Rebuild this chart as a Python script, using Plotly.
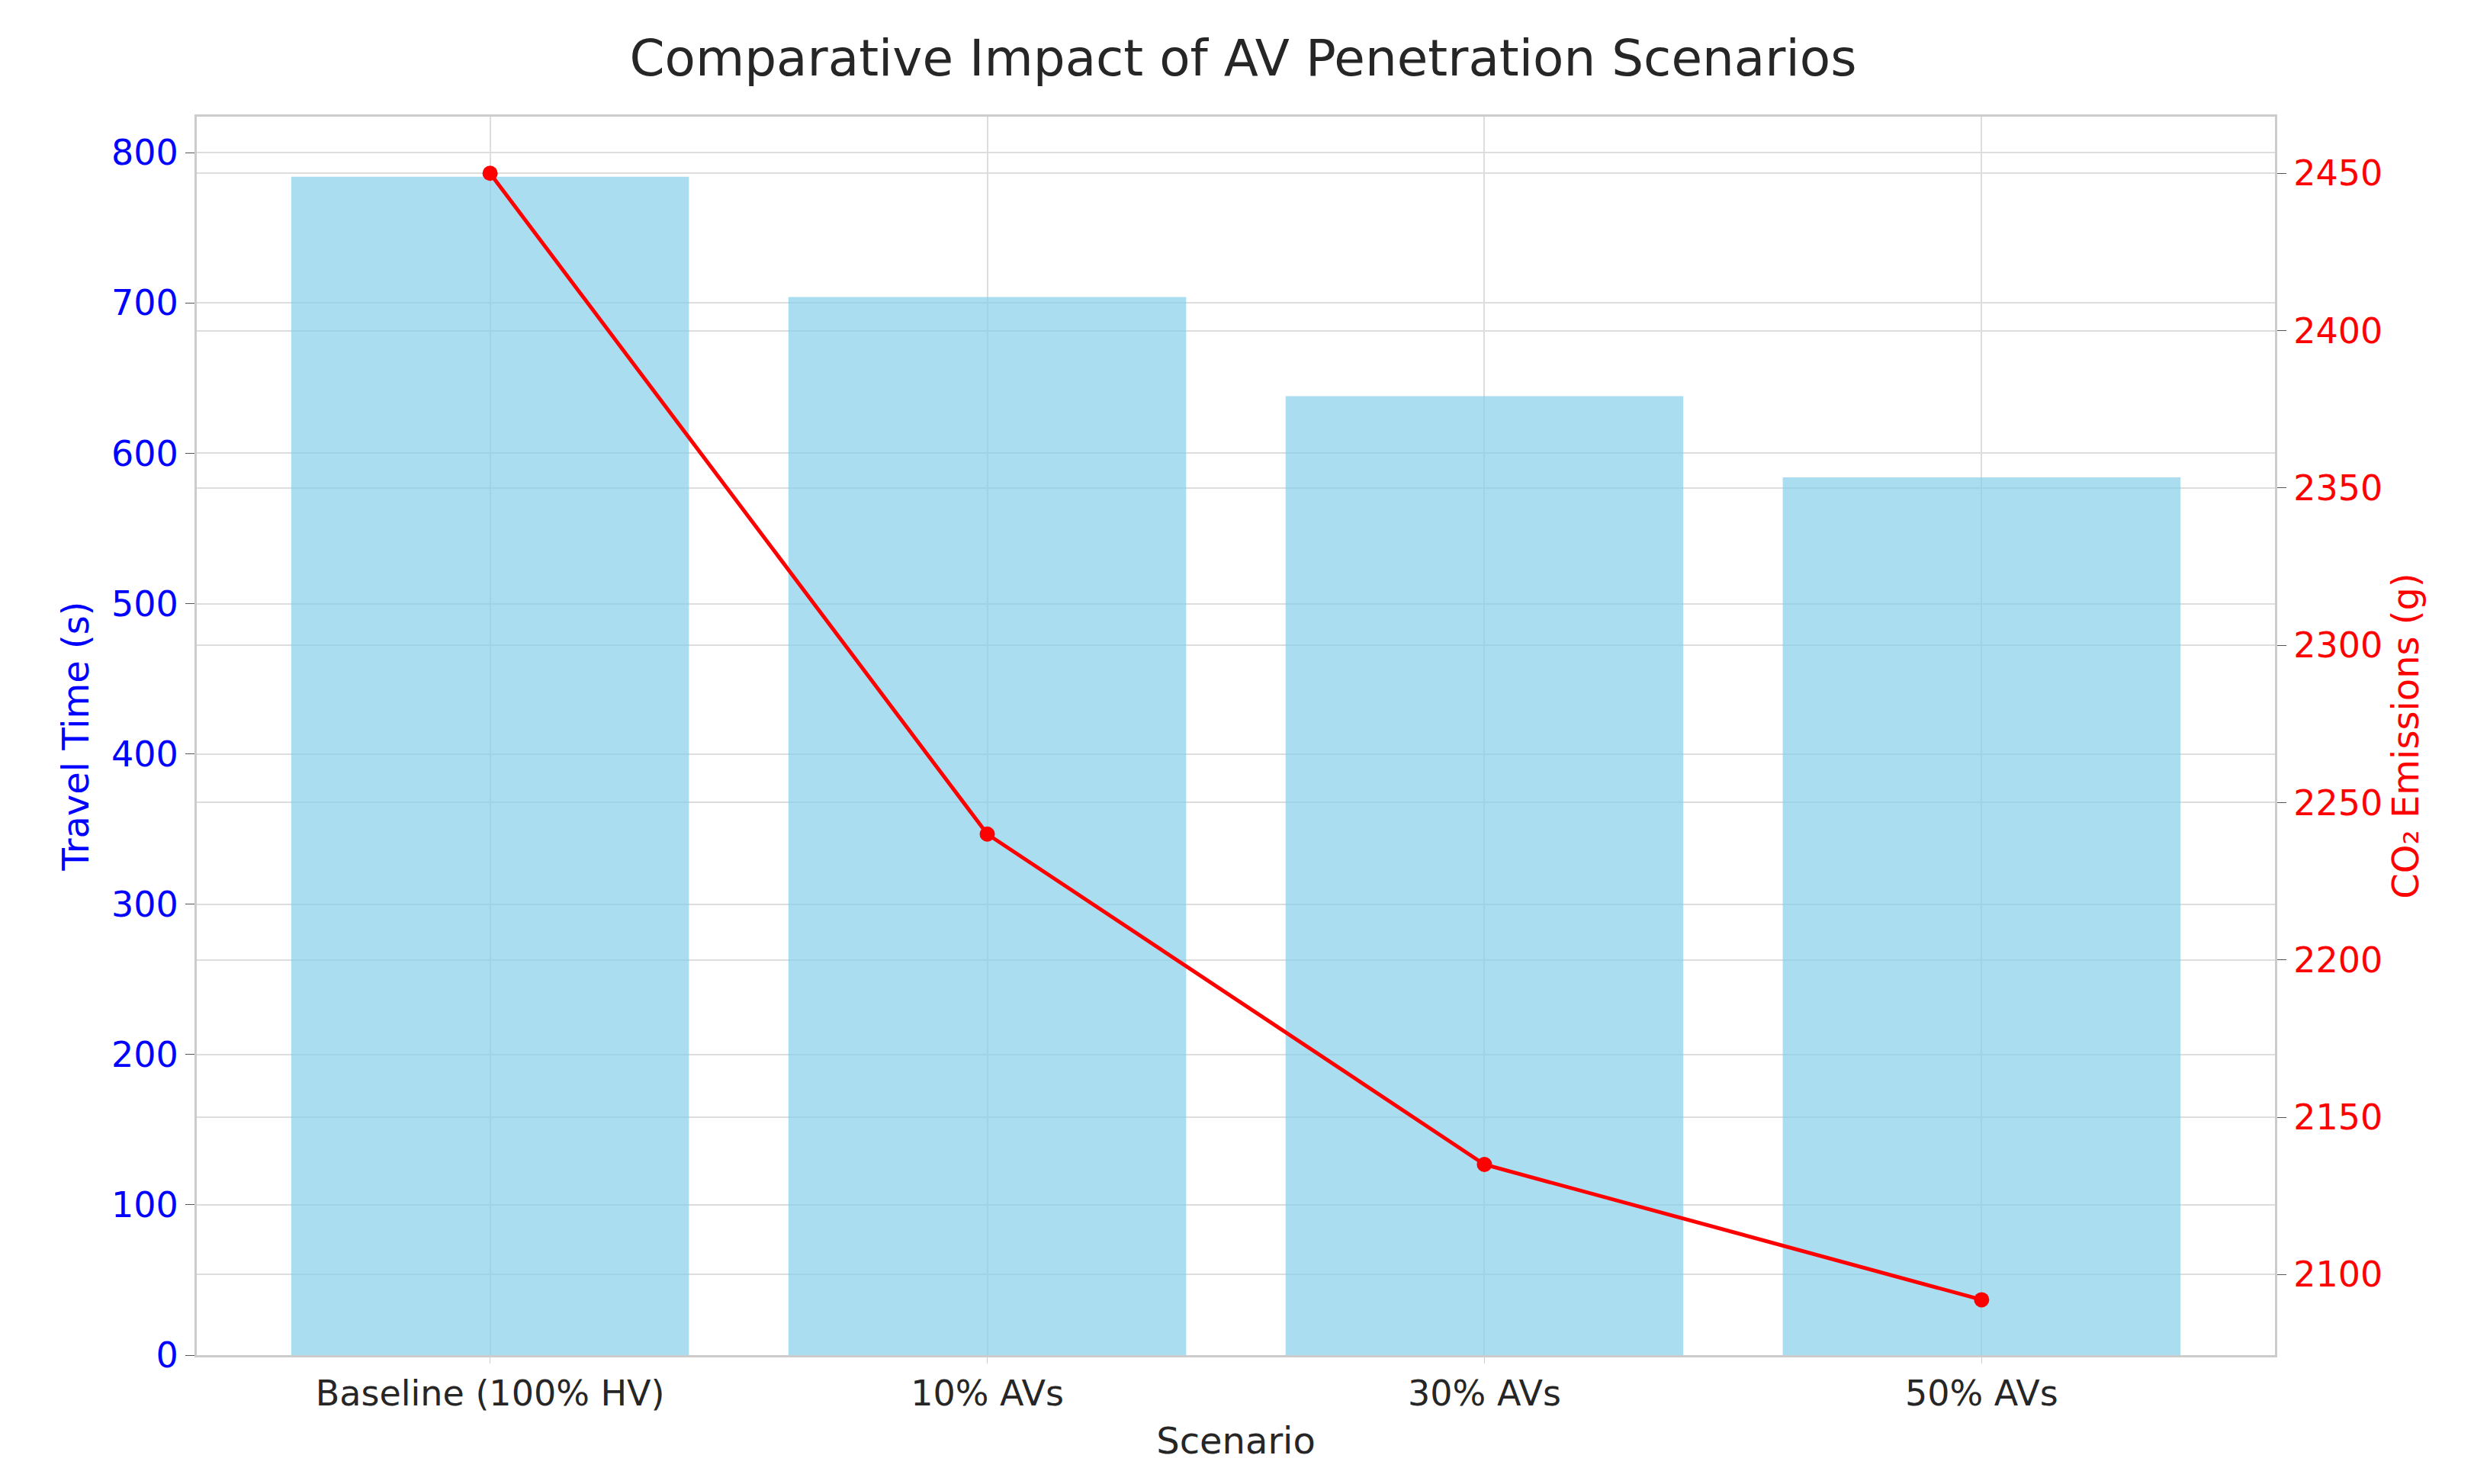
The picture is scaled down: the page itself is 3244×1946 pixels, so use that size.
import plotly.graph_objects as go

scenarios = ['Baseline (100% HV)', '10% AVs', '30% AVs', '50% AVs']
travel_time = [784, 704, 638, 584]
co2_emissions = [2450, 2240, 2135, 2092]

fig = go.Figure()
fig.add_trace(go.Bar(
	x=list(range(4)), y=travel_time, width=0.8,
	marker=dict(color='rgba(135,206,235,0.7)', line=dict(width=0)),
	name='Travel Time', yaxis='y'))
fig.add_trace(go.Scatter(
	x=list(range(4)), y=co2_emissions, mode='lines+markers',
	line=dict(color='red', width=5), marker=dict(color='red', size=20),
	name='CO2', yaxis='y2'))

grid = '#dddddd'
fig.update_layout(
	width=3244, height=1946,
	plot_bgcolor='white', paper_bgcolor='white',
	font=dict(family='DejaVu Sans', size=46, color='#262626'),
	showlegend=False,
	margin=dict(l=250, r=269, t=145, b=177),
	title=dict(text='Comparative Impact of AV Penetration Scenarios', x=0.5, xanchor='center',
		y=0.977, yanchor='top', font=dict(size=66, color='#262626')),
	xaxis=dict(range=[-0.59, 3.59], tickvals=list(range(4)), ticktext=scenarios,
		title=dict(text='Scenario', font=dict(size=48), standoff=20),
		showgrid=True, gridcolor=grid, gridwidth=2, zeroline=False,
		showline=True, linecolor='#cccccc', linewidth=3, mirror=True,
		ticks='outside', ticklen=8, tickcolor='#cccccc'),
	yaxis=dict(range=[0, 824], dtick=100, tickfont=dict(color='blue'),
		title=dict(text='Travel Time (s)', font=dict(color='blue', size=48), standoff=15),
		showgrid=True, gridcolor=grid, gridwidth=2, zeroline=False,
		showline=True, linecolor='#cccccc', linewidth=3,
		ticks='outside', ticklen=12, tickcolor='#555555'),
	yaxis2=dict(range=[2074.4, 2468], dtick=50, overlaying='y', side='right',
		tickfont=dict(color='red'),
		title=dict(text='CO₂ Emissions (g)', font=dict(color='red', size=48), standoff=15),
		showgrid=True, gridcolor=grid, gridwidth=2, zeroline=False,
		showline=True, linecolor='#cccccc', linewidth=3,
		ticks='outside', ticklen=12, tickcolor='#555555'),
)
fig.write_html('out.html')
